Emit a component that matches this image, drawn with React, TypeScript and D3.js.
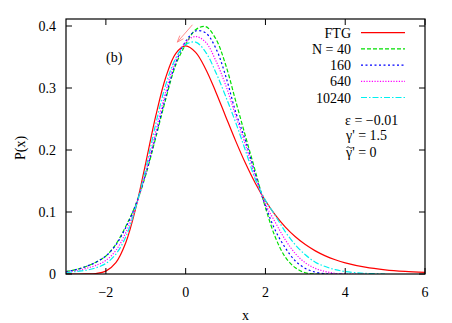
import React from "react";
import * as d3 from "d3";

const xs = [-3, -2.75, -2.5, -2.25, -2, -1.75, -1.5, -1.25, -1, -0.75, -0.5, -0.25, 0, 0.25, 0.5, 0.75, 1, 1.25, 1.5, 1.75, 2, 2.25, 2.5, 2.75, 3, 3.25, 3.5, 3.75, 4, 4.5, 5, 5.5, 6];

const ftg = [0, 0, 0.0001, 0.0007, 0.0046, 0.0182, 0.0507, 0.1065, 0.1794, 0.2549, 0.317, 0.3556, 0.3679, 0.3574, 0.3307, 0.2945, 0.2546, 0.2151, 0.1785, 0.146, 0.1182, 0.0949, 0.0756, 0.06, 0.0474, 0.0373, 0.0293, 0.023, 0.018, 0.011, 0.0067, 0.0041, 0.0025];
const n40 = [0.004, 0.007, 0.012, 0.019, 0.029, 0.048, 0.077, 0.112, 0.16, 0.22, 0.282, 0.337, 0.37, 0.394, 0.399, 0.38, 0.338, 0.28, 0.222, 0.165, 0.107, 0.059, 0.027, 0.01, 0.002, 0, 0];
const n160 = [0.004, 0.007, 0.012, 0.019, 0.029, 0.047, 0.075, 0.112, 0.162, 0.223, 0.286, 0.34, 0.375, 0.392, 0.389, 0.365, 0.32, 0.262, 0.215, 0.16, 0.11, 0.07, 0.042, 0.021, 0.009, 0.003, 0.0005, 0, 0];
const n640 = [0.003, 0.005, 0.009, 0.014, 0.022, 0.038, 0.067, 0.109, 0.164, 0.23, 0.294, 0.345, 0.374, 0.383, 0.374, 0.345, 0.305, 0.256, 0.208, 0.156, 0.113, 0.083, 0.055, 0.033, 0.018, 0.009, 0.004, 0.001, 0, 0];
const n10240 = [0.002, 0.004, 0.006, 0.01, 0.017, 0.032, 0.06, 0.108, 0.17, 0.242, 0.305, 0.348, 0.37, 0.374, 0.358, 0.326, 0.287, 0.245, 0.199, 0.152, 0.119, 0.094, 0.068, 0.047, 0.031, 0.019, 0.012, 0.007, 0.004, 0.001, 0];

const seriesNames = ["FTG", "N = 40", "160", "640", "10240"];
const seriesData = [ftg, n40, n160, n640, n10240];
const seriesColors = ["#ff0000", "#00e000", "#0000ff", "#ff00ff", "#00f0f0"];
const seriesDash = ["none", "4,2", "2,2.5", "1.2,1.5", "6,2,1.5,2"];

const xTicks = [-2, 0, 2, 4, 6];
const yTicks = [0, 0.1, 0.2, 0.3, 0.4];
const arrowFrom = [0.17, 0.402];
const arrowTo = [-0.21, 0.374];

const W = 452, H = 323;
const L = 66, R = 425, T = 19, B = 274;
const font = "'Liberation Serif', 'Times New Roman', Times, Tinos, 'DejaVu Serif', serif";

export default function App() {
  const x = d3.scaleLinear().domain([-3, 6]).range([L, R]);
  const y = d3.scaleLinear().domain([0, 0.4113]).range([B, T]);
  const line = d3
    .line<[number, number]>()
    .x((d) => x(d[0]))
    .y((d) => Math.min(B, y(d[1])))
    .curve(d3.curveCatmullRom.alpha(0.5));

  const ax = x(arrowTo[0]), ay = y(arrowTo[1]);
  const bx = x(arrowFrom[0]), by = y(arrowFrom[1]);
  const ang = Math.atan2(by - ay, bx - ax);
  const hl = 7, ha = 0.35;
  const h1 = [ax + hl * Math.cos(ang + ha), ay + hl * Math.sin(ang + ha)];
  const h2 = [ax + hl * Math.cos(ang - ha), ay + hl * Math.sin(ang - ha)];

  const legendTextX = 351;
  const legendLine = [361, 405];
  const legendY0 = 32.7;
  const legendDy = 16.2;
  const ts = { fontFamily: font, fontSize: 14 } as React.CSSProperties;

  return (
    <svg width={W} height={H} style={{ position: "absolute", left: 0, top: 0, background: "#fff", fontFamily: font }}>
      <defs>
        <clipPath id="plot">
          <rect x={L} y={T} width={R - L} height={B - T} />
        </clipPath>
      </defs>
      <g clipPath="url(#plot)">
        {seriesData.map((vals, i) => (
          <path
            key={i}
            d={line(vals.map((v, j) => [xs[j], v] as [number, number])) || ""}
            fill="none"
            stroke={seriesColors[i]}
            strokeWidth={1.2}
            strokeDasharray={seriesDash[i]}
          />
        ))}
      </g>
      <g stroke="#ff8080" strokeWidth={0.9} fill="none">
        <line x1={bx} y1={by} x2={ax} y2={ay} />
        <polyline points={`${h1[0]},${h1[1]} ${ax},${ay} ${h2[0]},${h2[1]}`} />
      </g>
      <rect x={L} y={T} width={R - L} height={B - T} fill="none" stroke="#000" strokeWidth={1.2} />
      {xTicks.map((t) => (
        <g key={"x" + t}>
          <line x1={x(t)} x2={x(t)} y1={B} y2={B - 6} stroke="#000" />
          <line x1={x(t)} x2={x(t)} y1={T} y2={T + 6} stroke="#000" />
          <text x={x(t)} y={297} style={ts} textAnchor="middle">
            {t < 0 ? "\u2212" + Math.abs(t) : String(t)}
          </text>
        </g>
      ))}
      {yTicks.map((t) => (
        <g key={"y" + t}>
          <line x1={L} x2={L + 6} y1={y(t)} y2={y(t)} stroke="#000" />
          <line x1={R} x2={R - 6} y1={y(t)} y2={y(t)} stroke="#000" />
          <text x={56} y={y(t) + 5} style={ts} textAnchor="end">
            {t === 0 ? "0" : t.toFixed(1)}
          </text>
        </g>
      ))}
      <text x={(L + R) / 2} y={320} style={ts} textAnchor="middle">x</text>
      <text transform={`translate(25, ${148}) rotate(-90)`} style={ts} textAnchor="middle">P(x)</text>
      <text x={106} y={62} style={ts}>(b)</text>
      {seriesNames.map((n, i) => (
        <g key={"lg" + i}>
          <text x={legendTextX} y={legendY0 + i * legendDy + 5} style={ts} textAnchor="end">{n}</text>
          <line
            x1={legendLine[0]}
            x2={legendLine[1]}
            y1={legendY0 + i * legendDy}
            y2={legendY0 + i * legendDy}
            stroke={seriesColors[i]}
            strokeWidth={1.2}
            strokeDasharray={seriesDash[i]}
          />
        </g>
      ))}
      <text x={345} y={125} style={ts}>{"\u03b5 = \u22120.01"}</text>
      <text x={346} y={140} style={ts}>{"\u03b3' = 1.5"}</text>
      <text x={346} y={157} style={ts}>{"\u03b3' = 0"}</text>
      <path d="M346.5,147.5 q1.5,-1.5 3,0 t3,0" fill="none" stroke="#000" strokeWidth={0.8} />
    </svg>
  );
}
